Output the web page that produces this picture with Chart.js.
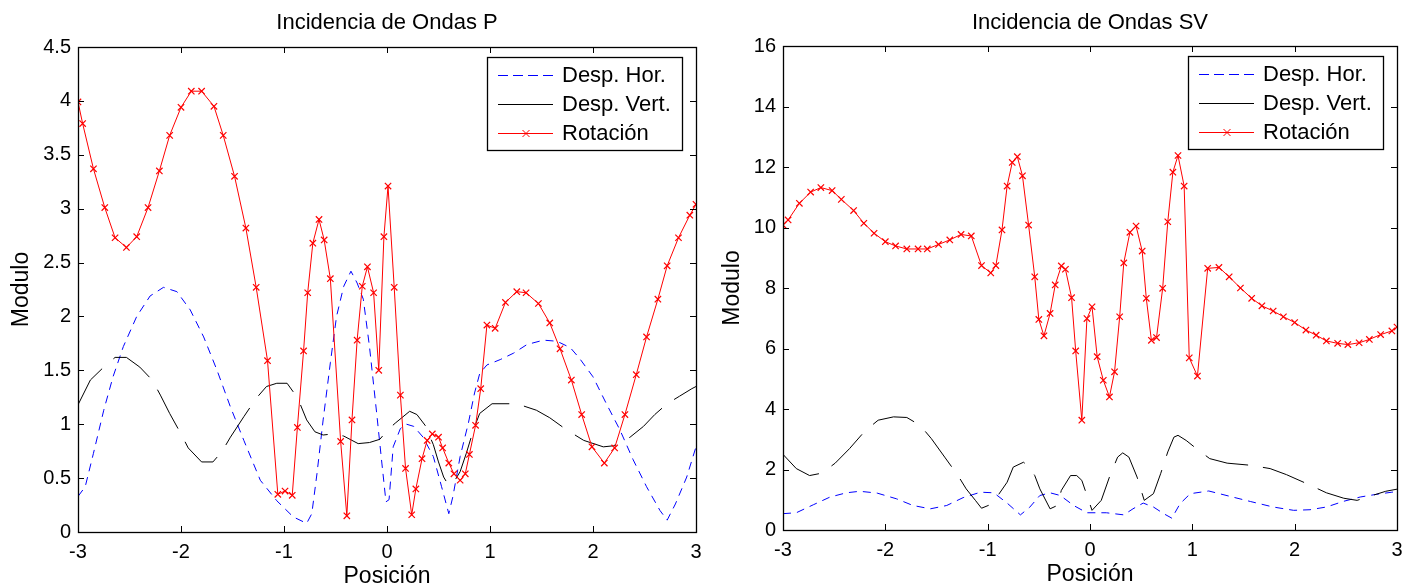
<!DOCTYPE html>
<html>
<head>
<meta charset="utf-8">
<script src="https://cdn.jsdelivr.net/npm/chart.js@4/dist/chart.umd.min.js"></script>
<style>
  body { margin: 0; background: #fff; }
  .panel { position: absolute; top: 0; }
</style>
</head>
<body>
<div class="panel" style="left:0"><canvas id="chartP" width="710" height="588"></canvas></div>
<div class="panel" style="left:710px"><canvas id="chartSV" width="709" height="588"></canvas></div>
<script>
// etiquetas
const seriesLabels = ['Desp. Hor.', 'Desp. Vert.', 'Rotación'];
const xTicks = [-3, -2, -1, 0, 1, 2, 3];
const yTicksP = [0, 0.5, 1, 1.5, 2, 2.5, 3, 3.5, 4, 4.5];
const yTicksSV = [0, 2, 4, 6, 8, 10, 12, 14, 16];

// Ondas P
const horPx = [-3.00, -2.93, -2.85, -2.75, -2.66, -2.56, -2.43, -2.30, -2.17, -2.04, -1.91, -1.78, -1.65, -1.52, -1.39, -1.23, -1.07, -0.91, -0.78, -0.73, -0.68, -0.62, -0.55, -0.49, -0.42, -0.35, -0.29, -0.23, -0.17, -0.10, -0.05, -0.01, 0.02, 0.06, 0.13, 0.19, 0.26, 0.35, 0.45, 0.53, 0.60, 0.64, 0.71, 0.79, 0.85, 0.90, 0.97, 1.10, 1.23, 1.36, 1.52, 1.65, 1.78, 1.87, 2.00, 2.13, 2.26, 2.39, 2.52, 2.65, 2.72, 2.80, 2.91, 3.00];
const horPy = [0.33, 0.42, 0.73, 1.13, 1.44, 1.72, 2.00, 2.19, 2.27, 2.23, 2.06, 1.81, 1.50, 1.16, 0.85, 0.48, 0.29, 0.14, 0.08, 0.17, 0.54, 1.04, 1.57, 2.00, 2.28, 2.42, 2.31, 2.16, 1.72, 1.10, 0.64, 0.28, 0.30, 0.79, 0.96, 1.00, 0.98, 0.88, 0.70, 0.42, 0.17, 0.33, 0.70, 1.01, 1.29, 1.47, 1.55, 1.60, 1.66, 1.74, 1.78, 1.77, 1.71, 1.61, 1.44, 1.19, 0.95, 0.67, 0.42, 0.20, 0.11, 0.26, 0.51, 0.79];

const verPx = [-3.00, -2.88, -2.75, -2.64, -2.53, -2.40, -2.28, -2.20, -2.11, -2.00, -1.93, -1.80, -1.69, -1.60, -1.52, -1.39, -1.27, -1.17, -1.07, -0.97, -0.91, -0.84, -0.78, -0.70, -0.62, -0.52, -0.42, -0.28, -0.17, -0.07, 0.01, 0.08, 0.22, 0.29, 0.37, 0.45, 0.50, 0.55, 0.60, 0.66, 0.71, 0.77, 0.84, 0.90, 1.02, 1.26, 1.45, 1.58, 1.74, 1.91, 2.10, 2.20, 2.36, 2.49, 2.60, 2.72, 2.84, 2.96, 3.00];
const verPy = [1.18, 1.41, 1.53, 1.62, 1.62, 1.53, 1.41, 1.27, 1.10, 0.91, 0.78, 0.65, 0.65, 0.75, 0.88, 1.07, 1.24, 1.35, 1.38, 1.38, 1.30, 1.18, 1.04, 0.93, 0.90, 0.91, 0.89, 0.82, 0.83, 0.86, 0.95, 1.01, 1.12, 1.09, 0.99, 0.81, 0.65, 0.51, 0.43, 0.48, 0.56, 0.73, 0.95, 1.10, 1.19, 1.19, 1.13, 1.06, 0.95, 0.85, 0.79, 0.80, 0.88, 0.98, 1.09, 1.19, 1.26, 1.33, 1.35];

const rotPx = [-3.00, -2.955, -2.85, -2.74, -2.64, -2.53, -2.43, -2.32, -2.21, -2.11, -2.00, -1.90, -1.80, -1.68, -1.59, -1.48, -1.37, -1.27, -1.16, -1.06, -0.99, -0.92, -0.87, -0.81, -0.77, -0.72, -0.66, -0.61, -0.55, -0.45, -0.39, -0.34, -0.29, -0.24, -0.19, -0.13, -0.08, -0.03, 0.01, 0.07, 0.13, 0.18, 0.24, 0.28, 0.34, 0.39, 0.44, 0.50, 0.54, 0.60, 0.65, 0.71, 0.76, 0.80, 0.86, 0.91, 0.97, 1.05, 1.15, 1.26, 1.35, 1.47, 1.58, 1.68, 1.79, 1.89, 1.99, 2.11, 2.21, 2.31, 2.42, 2.52, 2.63, 2.72, 2.83, 2.94, 3.00];
const rotPy = [3.99, 3.79, 3.37, 3.01, 2.73, 2.64, 2.74, 3.01, 3.35, 3.68, 3.94, 4.09, 4.09, 3.95, 3.68, 3.30, 2.82, 2.27, 1.59, 0.35, 0.38, 0.34, 0.97, 1.68, 2.22, 2.68, 2.90, 2.71, 2.35, 0.84, 0.15, 1.04, 1.78, 2.28, 2.46, 2.22, 1.50, 2.74, 3.21, 2.27, 1.27, 0.59, 0.16, 0.40, 0.68, 0.85, 0.91, 0.88, 0.78, 0.64, 0.54, 0.48, 0.54, 0.72, 0.99, 1.33, 1.92, 1.89, 2.13, 2.23, 2.22, 2.12, 1.94, 1.70, 1.41, 1.09, 0.79, 0.64, 0.78, 1.09, 1.46, 1.81, 2.16, 2.47, 2.73, 2.94, 3.04];

// Ondas SV
const horSVx = [-3.00, -2.87, -2.70, -2.54, -2.38, -2.25, -2.08, -1.89, -1.73, -1.56, -1.40, -1.24, -1.07, -0.94, -0.81, -0.68, -0.59, -0.49, -0.39, -0.29, -0.16, -0.03, 0.16, 0.33, 0.42, 0.52, 0.62, 0.72, 0.80, 0.88, 0.98, 1.16, 1.37, 1.57, 1.79, 1.99, 2.15, 2.31, 2.48, 2.64, 2.80, 2.95, 3.00];
const horSVy = [0.54, 0.57, 0.84, 1.09, 1.23, 1.28, 1.22, 1.03, 0.81, 0.70, 0.81, 1.07, 1.25, 1.23, 0.89, 0.50, 0.75, 1.14, 1.23, 1.14, 0.81, 0.57, 0.57, 0.50, 0.70, 0.89, 0.76, 0.54, 0.39, 0.87, 1.20, 1.29, 1.11, 0.94, 0.76, 0.65, 0.67, 0.76, 0.95, 1.09, 1.18, 1.25, 1.27];

const verSVx = [-3.00, -2.87, -2.74, -2.62, -2.49, -2.35, -2.20, -2.07, -1.92, -1.79, -1.66, -1.55, -1.42, -1.29, -1.21, -1.12, -1.06, -0.98, -0.90, -0.81, -0.75, -0.65, -0.59, -0.54, -0.49, -0.39, -0.32, -0.28, -0.19, -0.13, -0.08, 0.02, 0.11, 0.19, 0.27, 0.32, 0.38, 0.46, 0.53, 0.62, 0.69, 0.76, 0.82, 0.86, 0.94, 1.04, 1.17, 1.34, 1.57, 1.76, 1.92, 2.12, 2.31, 2.48, 2.61, 2.74, 2.89, 3.00];
const verSVy = [2.50, 2.03, 1.80, 1.88, 2.21, 2.69, 3.27, 3.63, 3.74, 3.72, 3.46, 3.02, 2.41, 1.80, 1.36, 0.98, 0.72, 0.83, 1.14, 1.58, 2.08, 2.24, 2.08, 1.80, 1.36, 0.70, 0.81, 1.31, 1.80, 1.80, 1.64, 0.65, 0.98, 1.75, 2.41, 2.55, 2.41, 1.75, 0.98, 1.20, 1.86, 2.58, 3.07, 3.13, 2.96, 2.69, 2.36, 2.21, 2.14, 2.03, 1.83, 1.53, 1.23, 1.05, 0.98, 1.12, 1.28, 1.35];

const rotSVx = [-3.00, -2.95, -2.84, -2.73, -2.63, -2.52, -2.43, -2.31, -2.21, -2.11, -2.00, -1.90, -1.79, -1.68, -1.59, -1.48, -1.37, -1.26, -1.16, -1.06, -0.97, -0.92, -0.86, -0.81, -0.76, -0.71, -0.66, -0.60, -0.54, -0.50, -0.45, -0.39, -0.34, -0.28, -0.24, -0.18, -0.14, -0.08, -0.03, 0.02, 0.07, 0.13, 0.19, 0.24, 0.29, 0.33, 0.39, 0.45, 0.51, 0.55, 0.60, 0.65, 0.71, 0.76, 0.81, 0.86, 0.92, 0.97, 1.05, 1.15, 1.26, 1.36, 1.47, 1.58, 1.68, 1.79, 1.89, 2.00, 2.11, 2.21, 2.31, 2.42, 2.52, 2.63, 2.73, 2.84, 2.95, 3.00];
const rotSVy = [10.08, 10.25, 10.80, 11.17, 11.32, 11.22, 10.93, 10.56, 10.14, 9.81, 9.53, 9.39, 9.29, 9.29, 9.29, 9.44, 9.59, 9.77, 9.72, 8.74, 8.50, 8.74, 9.92, 11.37, 12.15, 12.34, 11.71, 10.08, 8.37, 6.96, 6.42, 7.16, 8.10, 8.73, 8.62, 7.68, 5.92, 3.63, 6.99, 7.38, 5.73, 4.95, 4.40, 5.23, 7.05, 8.83, 9.84, 10.05, 9.22, 7.66, 6.27, 6.36, 7.99, 10.19, 11.83, 12.38, 11.37, 5.69, 5.09, 8.65, 8.68, 8.37, 8.00, 7.66, 7.41, 7.24, 7.05, 6.86, 6.61, 6.44, 6.25, 6.17, 6.13, 6.19, 6.30, 6.46, 6.58, 6.71];

const pts = (xs, ys) => xs.map((x, i) => ({ x: x, y: ys[i] }));
const FONT = 'Liberation Sans, Arial, sans-serif';

// caja + ticks hacia dentro, estilo matlab
const matlabAxes = {
  id: 'matlabAxes',
  afterDatasetsDraw(chart) {
    const { ctx, chartArea: a, scales } = chart;
    ctx.save();
    ctx.strokeStyle = '#000';
    ctx.lineWidth = 1;
    ctx.setLineDash([]);
    ctx.beginPath();
    scales.x.ticks.forEach(t => {
      const px = Math.round(scales.x.getPixelForValue(t.value)) + 0.5;
      ctx.moveTo(px, a.bottom); ctx.lineTo(px, a.bottom - 6);
      ctx.moveTo(px, a.top); ctx.lineTo(px, a.top + 6);
    });
    scales.y.ticks.forEach(t => {
      const py = Math.round(scales.y.getPixelForValue(t.value)) + 0.5;
      ctx.moveTo(a.left, py); ctx.lineTo(a.left + 6, py);
      ctx.moveTo(a.right, py); ctx.lineTo(a.right - 6, py);
    });
    ctx.stroke();
    ctx.lineWidth = 1.3;
    ctx.strokeRect(Math.round(a.left) + 0.5, Math.round(a.top) + 0.5, Math.round(a.right - a.left), Math.round(a.bottom - a.top));
    ctx.restore();
  }
};

// leyenda dentro del área
const legendBox = {
  id: 'legendBox',
  afterDraw(chart) {
    const { ctx, chartArea: a } = chart;
    const w = 195, h = 93;
    const x0 = Math.round(a.right - 14 - w), y0 = Math.round(a.top + 10);
    ctx.save();
    ctx.fillStyle = '#fff';
    ctx.fillRect(x0, y0, w, h);
    ctx.strokeStyle = '#000';
    ctx.lineWidth = 1.3;
    ctx.strokeRect(x0 + 0.5, y0 + 0.5, w, h);
    chart.data.datasets.forEach((ds, i) => {
      const y = y0 + 18.5 + i * 29;
      ctx.strokeStyle = ds.borderColor;
      ctx.lineWidth = 1;
      ctx.setLineDash(i === 0 ? [10, 5] : []);
      ctx.beginPath();
      ctx.moveTo(x0 + 11, y); ctx.lineTo(x0 + 66, y);
      ctx.stroke();
      ctx.setLineDash([]);
      if (ds.pointRadius > 0) {
        const cx = x0 + 39, r = 3.5;
        ctx.beginPath();
        ctx.moveTo(cx - r, y - r); ctx.lineTo(cx + r, y + r);
        ctx.moveTo(cx - r, y + r); ctx.lineTo(cx + r, y - r);
        ctx.stroke();
      }
      ctx.fillStyle = '#000';
      ctx.font = '22px ' + FONT;
      ctx.textBaseline = 'middle';
      ctx.textAlign = 'left';
      ctx.fillText(ds.label, x0 + 75, y);
    });
    ctx.restore();
  }
};

function makeChart(id, cfg) {
  const ctx = document.getElementById(id).getContext('2d');
  return new Chart(ctx, {
    type: 'scatter',
    data: {
      datasets: [{
        label: seriesLabels[0],
        data: cfg.hor,
        showLine: true,
        borderColor: '#0000ff',
        borderWidth: 1,
        borderDash: [8, 6],
        pointRadius: 0,
        tension: 0,
        order: 2
      }, {
        label: seriesLabels[1],
        data: cfg.ver,
        showLine: true,
        borderColor: '#000000',
        borderWidth: 1,
        borderDash: [44, 15],
        pointRadius: 0,
        tension: 0,
        order: 1
      }, {
        label: seriesLabels[2],
        data: cfg.rot,
        showLine: true,
        borderColor: '#ff0000',
        borderWidth: 1,
        pointStyle: 'crossRot',
        pointRadius: 4.5,
        pointBorderColor: '#ff0000',
        pointBorderWidth: 1.2,
        tension: 0,
        order: 0
      }]
    },
    options: {
      responsive: false,
      animation: false,
      layout: { padding: { left: 0, right: cfg.padRight, top: 0, bottom: 0 } },
      plugins: {
        legend: { display: false },
        tooltip: { enabled: false },
        title: {
          display: true,
          fullSize: false,
          text: cfg.title,
          color: '#000',
          font: { family: FONT, size: 22, weight: 'normal', lineHeight: 1.2 },
          padding: { top: 9.3, bottom: cfg.top - 35.7 }
        }
      },
      scales: {
        x: {
          type: 'linear',
          min: -3,
          max: 3,
          afterBuildTicks: s => { s.ticks = xTicks.map(v => ({ value: v })); },
          afterFit: s => { s.height = cfg.xAxisH; },
          grid: { display: false, drawTicks: false },
          border: { display: false },
          ticks: {
            color: '#000',
            font: { family: FONT, size: 20 },
            padding: 8,
            maxRotation: 0,
            autoSkip: false,
            callback: v => String(v)
          },
          title: {
            display: true,
            text: 'Posición',
            color: '#000',
            font: { family: FONT, size: 23, lineHeight: 1 },
            padding: { top: 0, bottom: cfg.xTitlePad }
          }
        },
        y: {
          type: 'linear',
          min: 0,
          max: cfg.yTicks[cfg.yTicks.length - 1],
          afterBuildTicks: s => { s.ticks = cfg.yTicks.map(v => ({ value: v })); },
          afterFit: s => { s.width = cfg.yAxisW; },
          grid: { display: false, drawTicks: false },
          border: { display: false },
          ticks: {
            color: '#000',
            font: { family: FONT, size: 20 },
            padding: 7,
            autoSkip: false,
            callback: v => String(v)
          },
          title: {
            display: true,
            text: 'Modulo',
            color: '#000',
            font: { family: FONT, size: 23, lineHeight: 1 },
            padding: { top: cfg.yTitlePad, bottom: 0 }
          }
        }
      }
    },
    plugins: [matlabAxes, legendBox]
  });
}

makeChart('chartP', {
  title: 'Incidencia de Ondas P',
  hor: pts(horPx, horPy),
  ver: pts(verPx, verPy),
  rot: pts(rotPx, rotPy),
  yTicks: yTicksP,
  top: 47,
  padRight: 14,
  xAxisH: 56,
  xTitlePad: 0,
  yAxisW: 78,
  yTitlePad: 10.5
});

makeChart('chartSV', {
  title: 'Incidencia de Ondas SV',
  hor: pts(horSVx, horSVy),
  ver: pts(verSVx, verSVy),
  rot: pts(rotSVx, rotSVy),
  yTicks: yTicksSV,
  top: 46,
  padRight: 22,
  xAxisH: 58,
  xTitlePad: 1.5,
  yAxisW: 73,
  yTitlePad: 11.5
});
</script>
</body>
</html>
